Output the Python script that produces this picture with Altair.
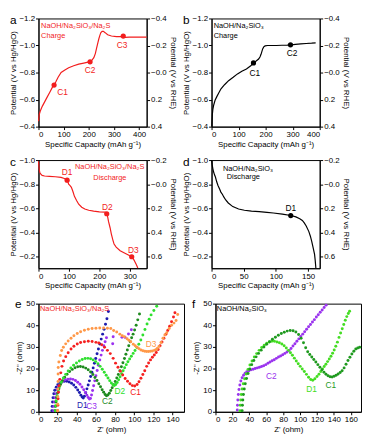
import altair as alt
import pandas as pd

FONT = "Liberation Sans"
RED = "#f21d1d"
BLACK = "#000000"

# ---------------- panel a (charge, NaOH/Na2SiO3/Na2S) ----------------
a_cap = [0, 3, 8, 15, 25, 35, 45, 55, 62, 70, 78, 90, 105, 120, 140, 160, 180, 201, 212, 220,
         226, 231, 236, 240, 244, 248, 253, 258, 265, 275, 290, 310, 327, 337, 345, 360, 380, 400, 420, 430]
a_pot = [-0.44, -0.49, -0.52, -0.55, -0.585, -0.62, -0.655, -0.69, -0.707, -0.735, -0.765, -0.80, -0.818,
         -0.835, -0.85, -0.862, -0.87, -0.879, -0.89, -0.91, -0.94, -0.98, -1.02, -1.05, -1.075, -1.095,
         -1.105, -1.105, -1.095, -1.08, -1.07, -1.066, -1.066, -1.07, -1.06, -1.062, -1.062, -1.062, -1.062, -1.062]
a_mk_cap = [62, 205, 337]
a_mk_pot = [-0.707, -0.879, -1.07]
a_mk_txt = ["C1", "C2", "C3"]
a_lb_cap = [96, 205, 332]
a_lb_pot = [-0.655, -0.815, -1.0]
a_title = ["NaOH/Na₂SiO₃/Na₂S", "Charge"]
a_title_cap = [10.5, 10.5]
a_title_pot = [-1.145, -1.069]

# ---------------- panel b (charge, NaOH/Na2SiO3) ----------------
b_cap = [1, 2, 3, 5, 8, 13, 19, 27, 35, 48, 63, 80, 96, 112, 129, 145, 155, 165, 174, 179, 183, 186,
         189, 193, 198, 207, 220, 240, 260, 280, 295, 310, 330, 350, 370, 385]
b_pot = [-0.40, -0.45, -0.49, -0.53, -0.56, -0.595, -0.62, -0.65, -0.68, -0.71, -0.74, -0.765, -0.79,
         -0.81, -0.826, -0.85, -0.871, -0.885, -0.90, -0.915, -0.935, -0.955, -0.975, -0.99, -0.997, -1.0,
         -1.0, -1.0, -1.002, -1.003, -1.005, -1.008, -1.012, -1.015, -1.017, -1.02]
b_mk_cap = [155, 292]
b_mk_pot = [-0.871, -1.005]
b_mk_txt = ["C1", "C2"]
b_lb_cap = [160, 298]
b_lb_pot = [-0.80, -0.943]
b_title = ["NaOH/Na₂SiO₃", "Charge"]
b_title_cap = [7.7, 7.7]
b_title_pot = [-1.145, -1.069]

# ---------------- panel c (discharge, NaOH/Na2SiO3/Na2S) ----------------
c_cap = [0, 1, 2, 4, 7, 12, 20, 36, 55, 74, 85, 94, 97, 99, 103, 108, 113, 118, 125, 132, 142, 152,
         165, 181, 200, 219, 224, 227, 230, 235, 239, 244, 248, 255, 268, 287, 306, 312, 316, 321, 326]
c_pot = [-0.99, -0.96, -0.93, -0.90, -0.885, -0.873, -0.868, -0.865, -0.862, -0.857, -0.848, -0.834,
         -0.815, -0.80, -0.79, -0.775, -0.74, -0.70, -0.665, -0.635, -0.61, -0.595, -0.585, -0.577, -0.572,
         -0.569, -0.556, -0.53, -0.49, -0.44, -0.39, -0.34, -0.305, -0.28, -0.25, -0.225, -0.20, -0.18,
         -0.16, -0.135, -0.107]
c_mk_cap = [94, 224, 306]
c_mk_pot = [-0.834, -0.556, -0.20]
c_mk_txt = ["D1", "D2", "D3"]
c_lb_cap = [94, 226, 311]
c_lb_pot = [-0.90, -0.609, -0.252]
c_title = ["NaOH/Na₂SiO₃/Na₂S", "Discharge"]
c_title_cap = [120, 180]
c_title_pot = [-0.939, -0.855]

# ---------------- panel d (discharge, NaOH/Na2SiO3) ----------------
d_cap = [0, 1, 2, 3, 4.5, 6, 8, 10, 12.5, 14.5, 17, 19, 22, 26, 33, 42, 51, 62, 74, 86, 96, 110, 123,
         131, 137, 141, 144, 147, 151, 153.5, 155.5, 158, 160, 161, 162]
d_pot = [-1.0, -0.96, -0.93, -0.905, -0.88, -0.86, -0.82, -0.79, -0.76, -0.735, -0.715, -0.695, -0.67,
         -0.645, -0.615, -0.595, -0.585, -0.578, -0.573, -0.567, -0.562, -0.553, -0.541, -0.53, -0.515,
         -0.5, -0.48, -0.455, -0.41, -0.37, -0.33, -0.27, -0.22, -0.17, -0.107]
d_mk_cap = [123]
d_mk_pot = [-0.541]
d_mk_txt = ["D1"]
d_lb_cap = [123]
d_lb_pot = [-0.605]
d_title = ["NaOH/Na₂SiO₃", "Discharge"]
d_title_cap = [17.7, 23.6]
d_title_pot = [-0.928, -0.859]

# ---------------- panel e (EIS, NaOH/Na2SiO3/Na2S) ----------------
e_names = ["D1", "C3", "C2", "D2", "C1", "D3"]
e_colors = ["#1c1cae", "#9b30f0", "#1e8a1e", "#2ee02e", "#f52020", "#ff9848"]
e_d1_x = [14.0, 14.3, 14.7, 15.2, 16.0, 17.0, 18.5, 20.2, 22.2, 24.5, 27.0, 29.5, 32.0, 34.5, 36.8, 39.0,
          41.0, 42.8, 44.3, 45.6, 46.8, 48.0, 49.3, 50.6, 51.9, 53.2, 54.5, 55.8, 57.1, 58.4, 59.8, 61.2,
          62.6, 64.0, 65.5, 67.0, 68.5, 70.0, 71.5, 73.0]
e_d1_y = [0.5, 2.5, 4.5, 6.5, 8.3, 10.0, 11.4, 12.5, 13.3, 13.8, 14.1, 14.1, 13.8, 13.2, 12.4, 11.3, 10.1,
          8.9, 7.7, 6.8, 6.4, 7.2, 8.8, 10.6, 12.4, 14.3, 16.3, 18.3, 20.3, 22.4, 24.6, 26.8, 29.0, 31.3,
          33.6, 35.9, 38.2, 40.5, 43.0, 46.4]
e_c3_x = [15.8, 16.1, 16.6, 17.3, 18.3, 19.6, 21.2, 23.2, 25.5, 28.0, 30.7, 33.4, 36.0, 38.6, 41.0, 43.3,
          45.4, 47.3, 49.0, 50.5, 51.9, 53.2, 54.3, 55.4, 56.5, 57.6, 58.8, 60.0, 61.3, 62.6, 64.0, 65.4,
          66.8, 68.2, 69.6, 71.0, 77.5, 78.0, 87.2, 90.5, 94.0, 97.0]
e_c3_y = [0.5, 2.5, 4.5, 6.5, 8.4, 10.2, 11.8, 13.1, 14.1, 14.8, 15.1, 15.2, 15.0, 14.5, 13.7, 12.7, 11.5,
          10.2, 8.9, 7.7, 6.6, 5.9, 6.2, 7.8, 9.8, 12.0, 14.3, 16.7, 19.1, 21.5, 23.9, 26.2, 28.4, 30.5,
          32.4, 34.2, 31.5, 34.7, 34.5, 34.4, 36.0, 37.9]
e_c2_x = [17.5, 17.8, 18.3, 19.0, 20.0, 21.3, 23.0, 25.0, 27.3, 29.8, 32.5, 35.3, 38.2, 41.0, 43.8, 46.6,
          49.3, 51.9, 54.4, 56.8, 59.0, 61.1, 63.0, 64.8, 66.5, 68.1, 69.6, 71.0, 72.5, 74.0, 75.5, 77.0,
          78.6, 80.2, 81.8, 83.4, 85.0, 86.6, 88.2, 89.8, 91.3, 92.8, 94.3, 95.8, 97.3, 98.8, 100.4, 102.0,
          103.7, 105.5]
e_c2_y = [0.5, 2.5, 4.5, 6.6, 8.7, 10.7, 12.6, 14.4, 16.0, 17.4, 18.6, 19.6, 20.4, 20.8, 20.9, 20.7, 20.2,
          19.4, 18.4, 17.2, 15.9, 14.5, 13.0, 11.6, 10.2, 9.0, 8.0, 7.4, 7.8, 8.6, 9.8, 11.1, 12.5, 14.0,
          15.6, 17.2, 19.0, 20.8, 22.7, 24.6, 26.6, 28.6, 30.5, 32.4, 34.2, 35.9, 37.8, 40.0, 42.5, 45.2]
e_d2_x = [17.5, 17.9, 18.5, 19.4, 20.6, 22.1, 23.9, 26.0, 28.4, 31.0, 33.8, 36.7, 39.7, 42.7, 45.7, 48.7,
          51.6, 54.4, 57.1, 59.7, 62.1, 64.4, 66.6, 68.7, 70.7, 72.6, 74.4, 76.1, 77.7, 79.2, 80.7, 82.2,
          83.7, 85.2, 86.8, 88.4, 90.0, 91.7, 93.4, 95.2, 97.0, 98.9, 100.8, 102.8, 104.8, 106.9, 109.0,
          111.2, 113.4, 115.6, 117.6, 120.5, 123.5]
e_d2_y = [0.5, 2.8, 5.1, 7.4, 9.6, 11.7, 13.7, 15.6, 17.3, 18.9, 20.3, 21.5, 22.6, 23.5, 24.2, 24.6, 24.7,
          24.5, 24.0, 23.2, 22.2, 21.0, 19.7, 18.3, 16.9, 15.6, 14.4, 13.3, 12.5, 12.2, 12.6, 13.5, 14.8,
          16.2, 17.6, 19.0, 20.4, 21.8, 23.1, 24.4, 25.7, 27.0, 28.3, 29.7, 31.2, 33.2, 35.5, 38.0, 40.6,
          42.8, 44.8, 46.8, 48.8]
e_c1_x = [20.0, 20.2, 20.5, 20.9, 21.5, 22.3, 23.3, 24.5, 26.2, 28.5, 31.0, 34.0, 37.0, 40.5, 44.0, 48.0,
          52.0, 56.0, 60.0, 63.0, 66.0, 69.0, 72.0, 75.0, 78.0, 80.5, 83.0, 85.5, 88.0, 90.5, 93.0, 95.5,
          98.0, 100.5, 103.0, 105.0, 107.0, 109.0, 111.0, 113.0, 115.0, 117.0, 119.0, 121.0, 123.0, 125.0,
          127.0, 129.0, 131.0, 133.0, 135.0, 137.0, 139.0, 141.0, 142.5]
e_c1_y = [0.5, 3.0, 6.0, 9.0, 12.0, 15.0, 18.0, 21.0, 23.5, 25.5, 27.3, 29.0, 30.3, 31.3, 32.0, 32.4, 32.6,
          32.5, 32.1, 31.8, 31.0, 29.8, 28.4, 26.9, 24.7, 22.5, 20.6, 18.8, 17.0, 15.4, 14.1, 13.0, 12.1,
          11.9, 12.6, 13.9, 15.5, 17.2, 19.0, 21.0, 22.6, 24.0, 25.2, 26.3, 27.4, 28.8, 30.5, 32.3, 34.0,
          35.8, 37.6, 39.6, 41.6, 43.8, 45.8]
e_d3_x = [20.0, 20.1, 20.2, 20.3, 20.4, 20.5, 20.6, 21.3, 22.8, 24.2, 26.0, 28.4, 31.0, 34.0, 37.0, 40.5,
          44.0, 48.0, 52.0, 56.0, 60.0, 64.0, 68.0, 72.0, 75.5, 78.5, 81.7, 85.0, 87.5, 89.8, 92.5, 94.5,
          96.4, 99.0, 101.0, 103.0, 105.0, 107.0, 109.0, 111.0, 113.0, 115.0, 117.0, 119.0, 121.0, 122.5,
          124.0, 125.8, 128.0, 130.0, 132.0, 134.0, 136.5, 139.0, 141.5, 143.7, 145.4]
e_d3_y = [0.5, 3.5, 7.0, 10.5, 14.0, 17.5, 20.5, 23.0, 26.0, 28.3, 29.8, 31.4, 32.7, 34.0, 35.2, 36.2, 37.0,
          37.7, 38.2, 38.5, 38.6, 38.7, 38.7, 38.6, 38.5, 37.6, 36.9, 35.9, 35.2, 34.7, 33.8, 33.1, 32.4,
          31.2, 30.5, 29.8, 29.2, 28.6, 28.2, 28.0, 27.9, 27.9, 28.0, 28.1, 28.4, 28.7, 29.3, 30.2, 32.0,
          34.0, 35.5, 36.5, 38.5, 40.0, 41.0, 42.2, 45.0]
e_lb_x = [45.7, 55.5, 71.9, 84.9, 101.3, 117.6]
e_lb_y = [3.3, 2.7, 4.9, 9.7, 8.9, 31.3]
e_title = "NaOH/Na₂SiO₃/Na₂S"

# ---------------- panel f (EIS, NaOH/Na2SiO3) ----------------
f_names = ["C2", "D1", "C1"]
f_colors = ["#9a33ee", "#44dd22", "#1f9a1f"]
f_c2_x = [25.8, 26.0, 26.4, 27.0, 27.8, 28.8, 30.0, 31.5, 33.2, 35.0, 37.0, 39.5, 42.0, 44.5, 47.0, 49.5,
          52.0, 54.5, 57.0, 59.5, 62.0, 64.5, 67.0, 69.5, 72.0, 74.5, 77.0, 79.5, 82.0, 84.5, 87.0, 89.3,
          91.6, 93.9, 96.2, 98.5, 100.8, 103.1, 105.4, 107.7, 110.0, 112.3, 114.6, 116.9, 119.2, 121.5,
          123.8, 126.1, 128.4, 130.7]
f_c2_y = [0.8, 3.0, 5.5, 8.0, 10.3, 12.4, 14.2, 15.7, 16.9, 17.8, 18.5, 19.0, 19.4, 19.7, 20.0, 20.3, 20.6,
          20.9, 21.3, 21.8, 22.4, 23.0, 23.6, 24.1, 24.7, 25.3, 25.8, 26.4, 27.0, 27.6, 28.3, 29.3, 30.4,
          31.5, 32.6, 33.7, 34.8, 35.9, 37.0, 38.2, 39.3, 40.4, 41.5, 42.6, 43.8, 44.9, 46.0, 47.1, 48.2, 49.3]
f_d1_x = [29.0, 29.3, 29.8, 30.5, 31.5, 32.8, 34.4, 36.3, 38.4, 40.7, 43.2, 45.9, 48.7, 51.6, 54.6, 57.6,
          60.6, 63.6, 66.6, 69.6, 72.6, 75.5, 78.4, 81.1, 83.7, 86.2, 88.6, 90.9, 93.2, 95.5, 97.8, 100.1,
          102.5, 105.0, 107.5, 110.0, 112.5, 115.0, 117.5, 120.0, 122.3, 124.5, 126.5, 128.5, 130.5, 132.5,
          134.5, 136.5, 138.4, 140.3, 142.2, 144.1, 146.0, 147.9, 149.8, 151.6, 153.4, 155.2, 157.0, 158.5]
f_d1_y = [0.5, 3.0, 5.5, 8.0, 10.5, 13.0, 15.3, 17.5, 19.6, 21.6, 23.5, 25.3, 26.9, 28.4, 29.7, 30.8, 31.7,
          32.3, 32.6, 32.6, 32.3, 31.9, 31.3, 30.5, 29.5, 28.4, 27.3, 26.1, 24.8, 23.5, 22.2, 21.0, 19.8,
          18.6, 17.3, 16.0, 14.9, 14.6, 15.3, 16.3, 17.4, 18.6, 19.8, 20.9, 22.0, 23.2, 24.4, 25.7, 27.1,
          28.6, 30.3, 32.2, 34.4, 36.4, 38.4, 40.4, 42.3, 44.0, 45.4, 46.5]
f_c1_x = [31.5, 31.8, 32.3, 33.0, 34.0, 35.2, 36.7, 38.5, 40.5, 42.8, 45.3, 48.0, 50.9, 54.0, 57.2, 60.5,
          63.9, 67.3, 70.8, 74.3, 77.8, 81.3, 84.8, 88.3, 91.7, 95.0, 98.2, 101.2, 104.0, 106.6, 109.0,
          111.4, 113.8, 116.2, 118.6, 121.0, 123.4, 125.8, 128.2, 130.6, 133.0, 135.4, 137.8, 140.2, 142.6,
          145.0, 147.4, 149.7, 152.0, 154.3, 156.6, 158.9, 161.2, 163.5, 165.8, 168.1, 170.4]
f_c1_y = [0.5, 3.0, 5.5, 8.0, 10.5, 13.0, 15.4, 17.7, 19.8, 21.8, 23.7, 25.4, 27.0, 28.5, 29.9, 31.2, 32.4,
          33.5, 34.5, 35.4, 36.2, 36.8, 37.3, 37.6, 37.5, 36.9, 35.7, 34.0, 31.9, 29.6, 27.8, 26.5, 25.3,
          24.2, 23.0, 21.8, 20.6, 19.4, 18.3, 17.4, 16.7, 16.2, 16.1, 16.4, 16.9, 17.5, 18.2, 19.0, 20.3,
          22.0, 23.7, 25.2, 26.7, 28.0, 29.0, 29.5, 29.8]
f_lb_x = [66.0, 113.5, 136.3]
f_lb_y = [16.6, 10.7, 12.2]
f_title = "NaOH/Na₂SiO₃"

W_GCD, H = 110, 110
W_EIS = 148
RIGHT_EXPR = "abs(datum.value) < 1e-9 ? '\u22120.0' : format(datum.value, '.1f')"


def letter_layer(letter, dx, dy):
    return alt.Chart(pd.DataFrame({"t": [letter]})).mark_text(
        fontSize=12, align="left", baseline="middle", font=FONT, color="black"
    ).encode(text="t:N", x=alt.value(dx), y=alt.value(dy))


def gcd_panel(letter, cap, pot, color, mk_cap, mk_pot, mk_txt, lb_cap, lb_pot,
              title, title_cap, title_pot, xdom, xticks, ydom, yticks, rticks, dx):
    df = pd.DataFrame({"x": cap, "y": pot})
    df["r"] = df["y"] + 0.8
    xs = alt.Scale(domain=xdom, nice=False, zero=False)
    ys = alt.Scale(domain=ydom, reverse=True, nice=False, zero=False)
    rs = alt.Scale(domain=[round(ydom[0] + 0.8, 3), round(ydom[1] + 0.8, 3)], reverse=True, nice=False, zero=False)
    X = alt.X("x:Q", scale=xs, axis=alt.Axis(values=xticks, format="d", title="Specific Capacity (mAh g⁻¹)"))
    Y = alt.Y("y:Q", scale=ys, axis=alt.Axis(values=yticks, format=".1f", title="Potential (V vs Hg/HgO)"))
    line = alt.Chart(df).mark_line(color=color, strokeWidth=1.2).encode(x=X, y=Y)
    mk = pd.DataFrame({"x": mk_cap, "y": mk_pot})
    pts = alt.Chart(mk).mark_point(filled=True, shape="circle", size=28, color=color, opacity=1).encode(x=X, y=Y)
    lb = pd.DataFrame({"x": lb_cap, "y": lb_pot, "t": mk_txt})
    labs = alt.Chart(lb).mark_text(color=color, fontSize=8.5, font=FONT).encode(x=X, y=Y, text="t:N")
    td = pd.DataFrame({"x": title_cap, "y": title_pot, "t": title})
    tt = alt.Chart(td).mark_text(color=color, fontSize=7.5, font=FONT, align="left").encode(x=X, y=Y, text="t:N")
    inner = alt.layer(line, pts, labs, tt, letter_layer(letter, dx, 2))
    right = alt.Chart(df).mark_line(opacity=0).encode(
        x=X,
        y=alt.Y("r:Q", scale=rs, axis=alt.Axis(orient="right", values=rticks, labelExpr=RIGHT_EXPR,
                                               title="Potential (V vs RHE)")),
    )
    return alt.layer(inner, right).resolve_scale(y="independent").properties(width=W_GCD, height=H)


def eis_panel(letter, key, names, colors, xs_list, ys_list, lb_x, lb_y, title, title_color, xdom, xticks, dx):
    rows = []
    for n, xs_, ys_ in zip(names, xs_list, ys_list):
        for xv, yv in zip(xs_, ys_):
            rows.append({"x": xv, "y": yv, key: n})
    df = pd.DataFrame(rows)
    xsc = alt.Scale(domain=xdom, nice=False, zero=False)
    ysc = alt.Scale(domain=[0, 50], nice=False)
    col = alt.Color(f"{key}:N", scale=alt.Scale(domain=names, range=colors), legend=None)
    X = alt.X("x:Q", scale=xsc, axis=alt.Axis(values=xticks, title="Z' (ohm)"))
    Y = alt.Y("y:Q", scale=ysc, axis=alt.Axis(values=[0, 10, 20, 30, 40, 50], title="-Z'' (ohm)"))
    pts = alt.Chart(df).mark_circle(size=9, opacity=1).encode(x=X, y=Y, color=col)
    lb = pd.DataFrame({"x": lb_x, "y": lb_y, key: names})
    labs = alt.Chart(lb).mark_text(fontSize=8.5, font=FONT).encode(x=X, y=Y, text=f"{key}:N", color=col)
    tt = alt.Chart(pd.DataFrame({"x": [1.6], "y": [47.4], "t": [title]})).mark_text(
        fontSize=7.5, font=FONT, align="left", color=title_color).encode(x=X, y=Y, text="t:N")
    return alt.layer(pts, labs, tt, letter_layer(letter, dx, 0)).properties(width=W_EIS, height=H)


pa = gcd_panel("a", a_cap, a_pot, RED, a_mk_cap, a_mk_pot, a_mk_txt, a_lb_cap, a_lb_pot,
               a_title, a_title_cap, a_title_pot, [0, 430], [0, 100, 200, 300, 400],
               [-1.2, -0.4], [-1.2, -1.0, -0.8, -0.6, -0.4], [-0.4, -0.2, 0.0, 0.2, 0.4], -29)
pb = gcd_panel("b", b_cap, b_pot, BLACK, b_mk_cap, b_mk_pot, b_mk_txt, b_lb_cap, b_lb_pot,
               b_title, b_title_cap, b_title_pot, [0, 400], [0, 100, 200, 300, 400],
               [-1.2, -0.4], [-1.2, -1.0, -0.8, -0.6, -0.4], [-0.4, -0.2, 0.0, 0.2, 0.4], -29)
pc = gcd_panel("c", c_cap, c_pot, RED, c_mk_cap, c_mk_pot, c_mk_txt, c_lb_cap, c_lb_pot,
               c_title, c_title_cap, c_title_pot, [0, 355], [0, 100, 200, 300],
               [-1.0, -0.105], [-1.0, -0.8, -0.6, -0.4, -0.2], [-0.2, 0.0, 0.2, 0.4, 0.6], -29)
pd_ = gcd_panel("d", d_cap, d_pot, BLACK, d_mk_cap, d_mk_pot, d_mk_txt, d_lb_cap, d_lb_pot,
                d_title, d_title_cap, d_title_pot, [0, 168], [0, 50, 100, 150],
                [-1.0, -0.105], [-1.0, -0.8, -0.6, -0.4, -0.2], [-0.2, 0.0, 0.2, 0.4, 0.6], -29)
pe = eis_panel("e", "se", e_names, e_colors,
               [e_d1_x, e_c3_x, e_c2_x, e_d2_x, e_c1_x, e_d3_x],
               [e_d1_y, e_c3_y, e_c2_y, e_d2_y, e_c1_y, e_d3_y],
               e_lb_x, e_lb_y, e_title, RED, [0, 152], [0, 20, 40, 60, 80, 100, 120, 140], -24)
pf = eis_panel("f", "sf", f_names, f_colors,
               [f_c2_x, f_d1_x, f_c1_x], [f_c2_y, f_d1_y, f_c1_y],
               f_lb_x, f_lb_y, f_title, BLACK, [0, 172], [0, 20, 40, 60, 80, 100, 120, 140, 160], -24)

chart = alt.vconcat(
    alt.hconcat(pa, pb, spacing=4),
    alt.hconcat(pc, pd_, spacing=4),
    alt.hconcat(pe, pf, spacing=6).resolve_scale(color="independent"),
    spacing=6,
).resolve_scale(
    color="independent"
).properties(
    padding={"left": 0, "top": 2, "right": 0, "bottom": 0}
).configure_view(
    stroke="black", strokeWidth=1
).configure_axis(
    labelFont=FONT, titleFont=FONT, labelFontSize=8, titleFontSize=8, titleFontWeight="normal",
    tickSize=3, labelPadding=1, titlePadding=2, grid=False, domainColor="black", tickColor="black",
    labelColor="black", titleColor="black", domainWidth=1, tickWidth=1
).configure_text(font=FONT)

chart.save("out.html", embed_options={"renderer": "svg", "actions": False})
